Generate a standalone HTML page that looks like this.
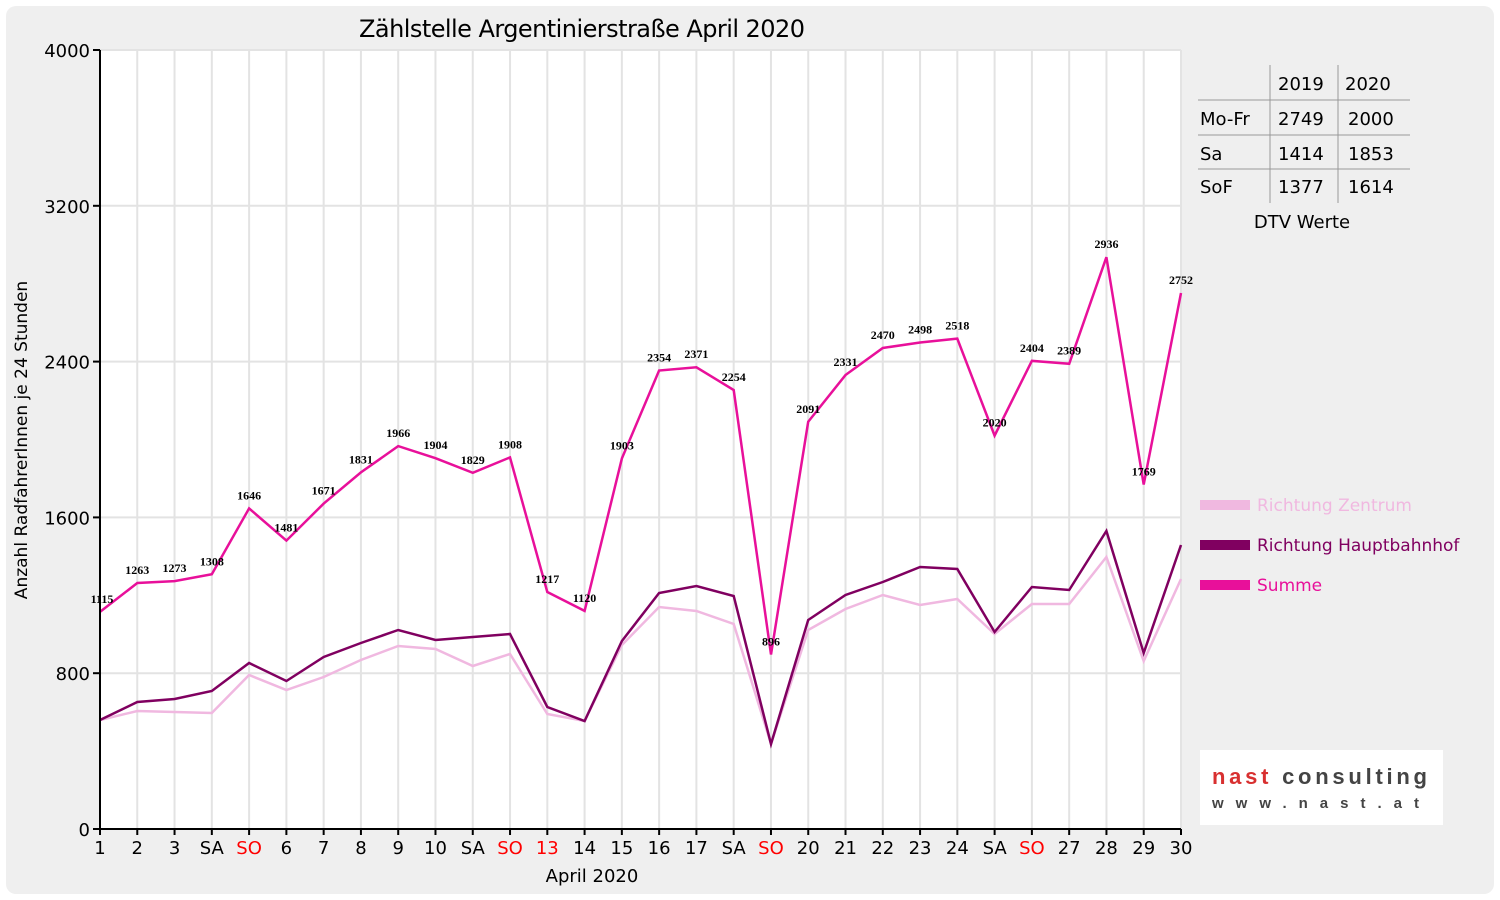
<!DOCTYPE html>
<html><head><meta charset="utf-8"><style>
body{margin:0;background:#fff;}
svg{display:block;font-family:"DejaVu Sans","Liberation Sans",sans-serif;}
</style></head><body>
<svg id="s" width="1500" height="900" xmlns="http://www.w3.org/2000/svg">
<rect x="6" y="6" width="1488" height="888" rx="10" fill="#efefef"/>
<rect x="100" y="50" width="1081" height="779" fill="#fff"/>
<g id="grid" stroke="#e3e3e3" stroke-width="2"></g>
<text x="582" y="37" font-size="24" text-anchor="middle" fill="#000" textLength="446">Zählstelle Argentinierstraße April 2020</text>
<text transform="translate(27,440) rotate(-90)" font-size="17" text-anchor="middle">Anzahl RadfahrerInnen je 24 Stunden</text>
<g id="yl" font-size="18" text-anchor="end"></g>
<g id="xl" font-size="18" text-anchor="middle"></g>
<text x="592" y="882" font-size="18" text-anchor="middle">April 2020</text>
<g id="lines" fill="none"></g>
<g id="vl" font-size="12" font-weight="bold" text-anchor="middle" font-family="Liberation Serif,serif"></g>
<line x1="100" y1="50" x2="100" y2="830" stroke="#000" stroke-width="2"/>
<line x1="99" y1="829" x2="1181" y2="829" stroke="#000" stroke-width="2"/>
<g font-size="18">
<text x="1278" y="90">2019</text><text x="1345" y="90">2020</text>
<text x="1200" y="125">Mo-Fr</text><text x="1278" y="125">2749</text><text x="1348" y="125">2000</text>
<text x="1200" y="160">Sa</text><text x="1278" y="160">1414</text><text x="1348" y="160">1853</text>
<text x="1200" y="193">SoF</text><text x="1278" y="193">1377</text><text x="1348" y="193">1614</text>
<text x="1302" y="228" text-anchor="middle">DTV Werte</text>
</g>
<g stroke="#999" stroke-width="1">
<line x1="1270" y1="65" x2="1270" y2="203"/><line x1="1338" y1="65" x2="1338" y2="203"/>
<line x1="1198" y1="100" x2="1410" y2="100"/><line x1="1198" y1="135" x2="1410" y2="135"/><line x1="1198" y1="169" x2="1410" y2="169"/>
</g>
<rect x="1200" y="500" width="50" height="10" fill="#f0b8e0"/>
<text x="1257" y="511" font-size="17" fill="#f0b8e0">Richtung Zentrum</text>
<rect x="1200" y="540" width="50" height="10" fill="#800060"/>
<text x="1257" y="551" font-size="17" fill="#800060">Richtung Hauptbahnhof</text>
<rect x="1200" y="580" width="50" height="10" fill="#e8109a"/>
<text x="1257" y="591" font-size="17" fill="#e8109a">Summe</text>
<rect x="1200" y="750" width="243" height="75" fill="#fff"/>
<text x="1212" y="784" font-size="22" font-weight="bold" fill="#d83030" font-family="Liberation Sans,sans-serif" textLength="215">nast <tspan fill="#444">consulting</tspan></text>
<text x="1212" y="808" font-size="15" font-weight="bold" fill="#444" letter-spacing="12" font-family="Liberation Sans,sans-serif">www.nast.at</text>
</svg>
<script>
const NS="http://www.w3.org/2000/svg";
function el(p,t,a,txt){const e=document.createElementNS(NS,t);for(const k in a)e.setAttribute(k,a[k]);if(txt!=null)e.textContent=txt;document.getElementById(p).appendChild(e);return e;}
const X=i=>100+i*1081/29, Y=v=>829-v*779/4000;
for(let i=1;i<30;i++)el("grid","line",{x1:X(i),y1:50,x2:X(i),y2:829});
for(let k=1;k<=5;k++)el("grid","line",{x1:100,y1:Y(800*k),x2:1181,y2:Y(800*k)});
for(let k=0;k<=5;k++){el("yl","text",{x:90,y:Y(800*k)+7},String(800*k));el("yl","line",{x1:93,y1:Y(800*k),x2:100,y2:Y(800*k),stroke:"#000","stroke-width":2});}
const lab=["1","2","3","SA","SO","6","7","8","9","10","SA","SO","13","14","15","16","17","SA","SO","20","21","22","23","24","SA","SO","27","28","29","30"];
const red=[4,11,12,18,25];
lab.forEach((l,i)=>{el("xl","text",{x:X(i),y:854,fill:red.includes(i)?"#f00":"#000"},l);el("xl","line",{x1:X(i),y1:829,x2:X(i),y2:835,stroke:"#000","stroke-width":2});});
const S=[1115,1263,1273,1308,1646,1481,1671,1831,1966,1904,1829,1908,1217,1120,1903,2354,2371,2254,896,2091,2331,2470,2498,2518,2020,2404,2389,2936,1769,2752];
const H=[720,702,699,691,663,681,657,643,630,640,637,634,707,721,641,593,586,596,744,620,595,582,567,569,632,587,590,531,653,545];
const Z=[720,711,712,713,675,690,677,660,646,649,666,654,714,721,645,607,611,624,744,630,609,595,605,599,634,604,604,557,661,579];
const pts=a=>a.map((y,i)=>X(i).toFixed(1)+","+y).join(" ");
el("lines","polyline",{points:pts(Z),stroke:"#f0b8e0","stroke-width":2.5});
el("lines","polyline",{points:pts(H),stroke:"#800060","stroke-width":2.5});
el("lines","polyline",{points:pts(S.map(Y)),stroke:"#e8109a","stroke-width":2.5});
S.forEach((v,i)=>el("vl","text",{x:X(i)+(i==0?2:0),y:Y(v)-9},String(v)));
</script>
</body></html>
